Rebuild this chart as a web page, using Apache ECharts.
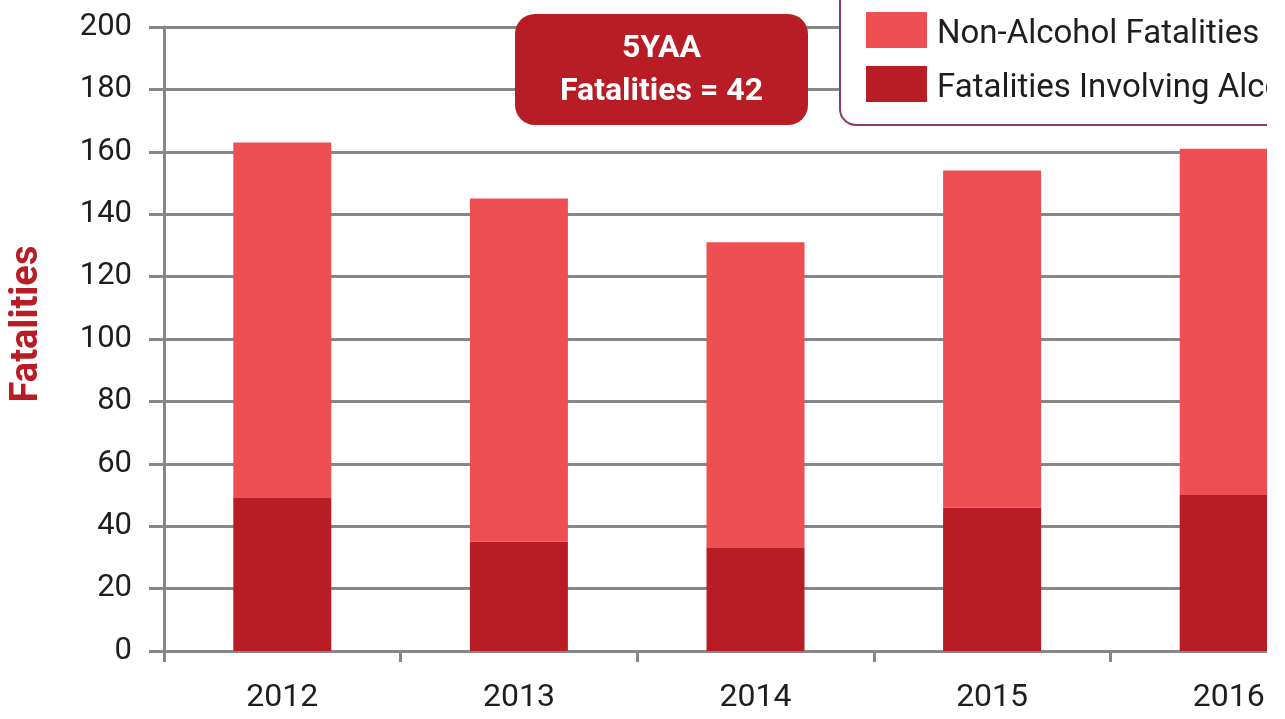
<!DOCTYPE html>
<html>
<head>
<meta charset="utf-8">
<script src="https://cdn.jsdelivr.net/npm/echarts@6/dist/echarts.min.js"></script>
<style>
  html, body { margin: 0; padding: 0; background: #ffffff; overflow: hidden; }
  #frame { width: 1267px; height: 719px; overflow: hidden; }
  #chart { width: 1360px; height: 719px; }
</style>
</head>
<body>
<div id="frame"><div id="chart"></div></div>
<script>
// Yearly fatalities, split by alcohol involvement
const years = ['2012', '2013', '2014', '2015', '2016'];
const alcoholFatalities = [49, 35, 33, 46, 50];
const nonAlcoholFatalities = [114, 110, 98, 108, 111];
const yTicks = { min: 0, max: 200, interval: 20 };
const fiveYearAverage = 42;

const LIGHT_RED = '#ee4f52';
const DARK_RED = '#b81d25';
const GRID_GREY = '#878787';
const FONT = 'Roboto, "Open Sans", sans-serif';

const chart = echarts.init(document.getElementById('chart'), null, { renderer: 'canvas' });

chart.setOption({
  backgroundColor: '#ffffff',
  animation: false,
  grid: { left: 162, top: 27, width: 1185, height: 624, containLabel: false },
  legend: {
    orient: 'vertical',
    left: 840,
    top: -14,
    padding: [26, 40, 20, 26],
    itemWidth: 61,
    itemHeight: 36,
    itemGap: 15,
    borderColor: '#8e3b68',
    borderWidth: 2,
    borderRadius: 16,
    backgroundColor: '#ffffff',
    icon: 'rect',
    formatter: '{t|{name}}',
    textStyle: {
      fontFamily: FONT, fontSize: 33, color: '#1e1e1e',
      rich: { t: { fontFamily: FONT, fontSize: 33, color: '#1e1e1e', padding: [9, 0, 0, 5] } }
    },
    data: ['Non-Alcohol Fatalities', 'Fatalities Involving Alcohol']
  },
  xAxis: {
    type: 'category',
    data: years,
    boundaryGap: true,
    axisLine: { show: true, lineStyle: { color: GRID_GREY, width: 3 } },
    axisTick: { show: true, length: 11, lineStyle: { color: GRID_GREY, width: 3 } },
    axisLabel: { fontFamily: FONT, fontSize: 32, color: '#1e1e1e', margin: 31 },
    splitLine: { show: false }
  },
  yAxis: {
    type: 'value',
    min: yTicks.min,
    max: yTicks.max,
    interval: yTicks.interval,
    name: 'Fatalities',
    nameLocation: 'middle',
    nameGap: 118,
    nameTextStyle: {
      fontFamily: FONT, fontSize: 38, fontWeight: 'bold', color: DARK_RED,
      padding: [0, 0, 0, 30]
    },
    axisLine: { show: true, lineStyle: { color: GRID_GREY, width: 3 } },
    axisTick: { show: true, inside: false, length: 15, lineStyle: { color: GRID_GREY, width: 3 } },
    axisLabel: { fontFamily: FONT, fontSize: 31, color: '#1e1e1e', margin: 32 },
    splitLine: { show: true, lineStyle: { color: GRID_GREY, width: 3 } }
  },
  series: [
    {
      name: 'Fatalities Involving Alcohol',
      type: 'bar',
      stack: 'total',
      barWidth: 98,
      itemStyle: { color: DARK_RED },
      data: alcoholFatalities,
      z: 3
    },
    {
      name: 'Non-Alcohol Fatalities',
      type: 'bar',
      stack: 'total',
      barWidth: 98,
      itemStyle: { color: LIGHT_RED },
      data: nonAlcoholFatalities,
      z: 3
    }
  ],
  graphic: [
    {
      type: 'rect',
      left: 515,
      top: 14,
      z: 100,
      shape: { width: 293, height: 111, r: 20 },
      style: { fill: DARK_RED }
    },
    {
      type: 'text',
      x: 661.5,
      y: 49,
      z: 101,
      style: {
        text: '5YAA',
        fill: '#ffffff',
        font: 'bold 32px ' + FONT,
        textAlign: 'center',
        textVerticalAlign: 'middle'
      }
    },
    {
      type: 'text',
      x: 661.5,
      y: 92,
      z: 101,
      style: {
        text: 'Fatalities = ' + fiveYearAverage,
        fill: '#ffffff',
        font: 'bold 32px ' + FONT,
        textAlign: 'center',
        textVerticalAlign: 'middle'
      }
    }
  ]
});
</script>
</body>
</html>
